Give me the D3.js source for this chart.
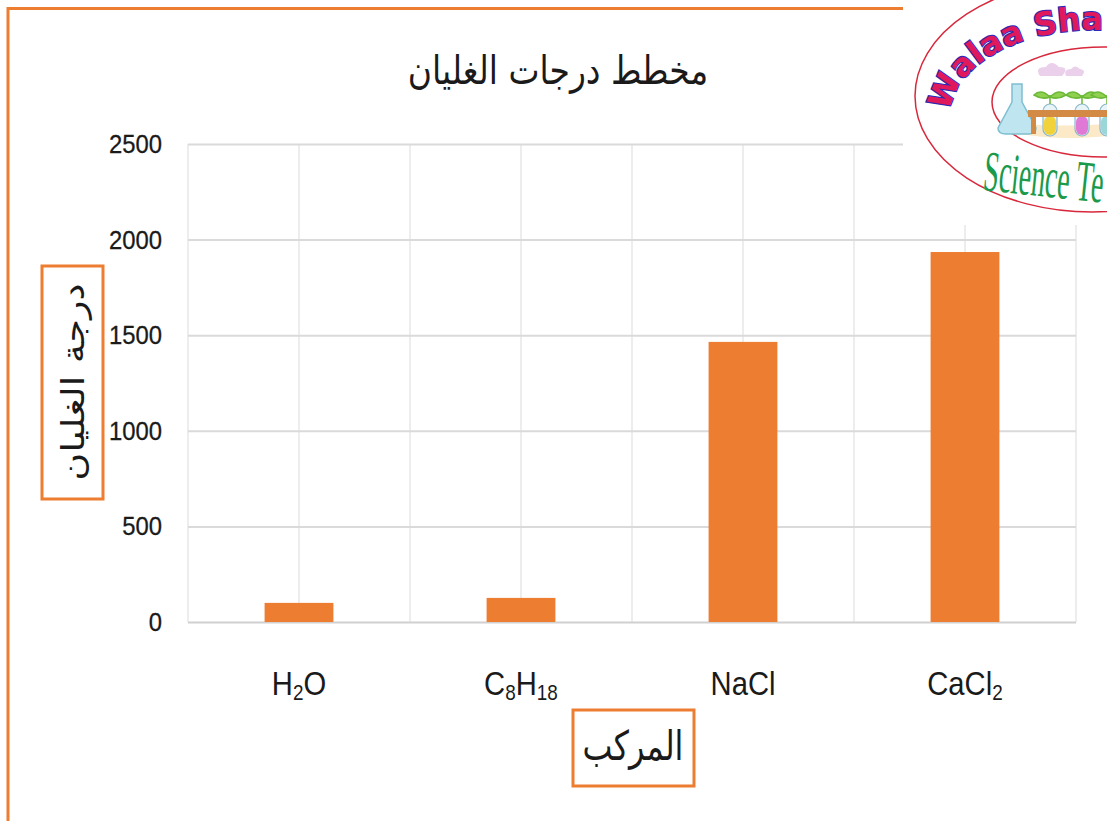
<!DOCTYPE html>
<html>
<head>
<meta charset="utf-8">
<script src="https://cdn.jsdelivr.net/npm/d3@7"></script>
<style>
  html, body { margin: 0; padding: 0; background: #fff; }
  svg { display: block; }
</style>
</head>
<body>
<svg id="chart" width="1107" height="821"></svg>
<script>
// Boiling points (°C) of four compounds
const categories = ["H2O", "C8H18", "NaCl", "CaCl2"];
const boilingPoints = [100, 126, 1465, 1935];
const yTicks = [0, 500, 1000, 1500, 2000, 2500];

const titleText = "مخطط درجات الغليان";
const yTitleText = "درجة الغليان";
const xTitleText = "المركب";

const orange = "#ED7D31";
const arabicFont = "'DejaVu Sans', sans-serif";
const latinFont = "'Liberation Sans', Arial, sans-serif";

const svg = d3.select("#chart");

const plot = { left: 188, right: 1076, top: 144, bottom: 622 };

const x = d3.scaleBand()
  .domain(categories)
  .range([plot.left, plot.right])
  .paddingInner(0.69)
  .paddingOuter(0.345);

const y = d3.scaleLinear()
  .domain([0, 2500])
  .range([plot.bottom, plot.top]);

const step = x.step();

// Frame lines along the top and left edges
svg.append("line")
  .attr("x1", 8).attr("x2", 1107).attr("y1", 8.5).attr("y2", 8.5)
  .attr("stroke", orange).attr("stroke-width", 3);
svg.append("line")
  .attr("x1", 8).attr("x2", 8).attr("y1", 7).attr("y2", 821)
  .attr("stroke", orange).attr("stroke-width", 3);

// Vertical gridlines at band edges and band centres
const vLines = [];
categories.forEach(c => {
  vLines.push(x(c) - (step - x.bandwidth()) / 2);
  vLines.push(x(c) + x.bandwidth() / 2);
});
vLines.push(plot.right);
svg.append("g").selectAll("line").data(vLines).join("line")
  .attr("x1", d => d).attr("x2", d => d)
  .attr("y1", plot.top).attr("y2", plot.bottom)
  .attr("stroke", "#ededed").attr("stroke-width", 2);

// Horizontal gridlines through the y axis
const tickScale = 0.9;
const yAxis = d3.axisLeft(y)
  .tickValues(yTicks)
  .tickFormat(d3.format("d"))
  .tickSize(-(plot.right - plot.left))
  .tickPadding(0);
const yAxisG = svg.append("g")
  .attr("transform", `translate(${plot.left},0)`)
  .call(yAxis);
yAxisG.select(".domain").remove();
yAxisG.selectAll(".tick line")
  .attr("stroke", d => d === 0 ? "#d0d0d0" : "#dadada")
  .attr("stroke-width", 2);
yAxisG.selectAll(".tick text")
  .attr("font-family", latinFont)
  .attr("font-size", 26.5)
  .attr("fill", "#1a1a1a")
  .attr("stroke", "#1a1a1a")
  .attr("stroke-width", 0.3)
  .attr("x", -26 / tickScale)
  .attr("transform", `scale(${tickScale},1)`);

// Bars
svg.append("g").selectAll("rect").data(categories).join("rect")
  .attr("x", d => x(d))
  .attr("width", x.bandwidth())
  .attr("y", (d, i) => y(boilingPoints[i]))
  .attr("height", (d, i) => y(0) - y(boilingPoints[i]))
  .attr("fill", orange);

// Category labels with subscripted digits
const labelScale = 0.86;
const xLabels = svg.append("g").selectAll("text").data(categories).join("text")
  .attr("transform", d => `translate(${x(d) + x.bandwidth() / 2},695) scale(${labelScale},1)`)
  .attr("text-anchor", "middle")
  .attr("font-family", latinFont)
  .attr("font-size", 34)
  .attr("fill", "#1a1a1a");
xLabels.each(function(d) {
  const t = d3.select(this);
  const parts = d.match(/[A-Za-z]+|\d+/g);
  let sub = false;
  parts.forEach(p => {
    const isNum = /\d/.test(p);
    const ts = t.append("tspan").text(p);
    if (isNum) {
      ts.attr("font-size", 22);
      if (!sub) { ts.attr("dy", 5); sub = true; }
    } else if (sub) {
      ts.attr("dy", -5); sub = false;
    }
  });
});

// Chart title
svg.append("text")
  .attr("transform", "translate(558,84) scale(0.97,1.15)")
  .attr("text-anchor", "middle")
  .attr("font-family", arabicFont)
  .attr("font-size", 34)
  .attr("fill", "#1a1a1a")
  .text(titleText);

// Y axis title in a boxed frame
svg.append("rect")
  .attr("x", 42).attr("y", 266).attr("width", 61).attr("height", 233)
  .attr("fill", "#fff").attr("stroke", orange).attr("stroke-width", 3);
svg.append("text")
  .attr("transform", "translate(73,382) rotate(-90) scale(1.24,1)")
  .attr("text-anchor", "middle")
  .attr("dominant-baseline", "central")
  .attr("font-family", arabicFont)
  .attr("font-size", 31)
  .attr("fill", "#1a1a1a")
  .text(yTitleText);

// X axis title in a boxed frame
svg.append("rect")
  .attr("x", 573).attr("y", 710).attr("width", 121).attr("height", 76)
  .attr("fill", "#fff").attr("stroke", orange).attr("stroke-width", 3);
svg.append("text")
  .attr("transform", "translate(633,746) scale(0.86,1.1)")
  .attr("text-anchor", "middle")
  .attr("dominant-baseline", "central")
  .attr("font-family", arabicFont)
  .attr("font-size", 37)
  .attr("fill", "#1a1a1a")
  .text(xTitleText);

// Badge in the top-right corner
const badge = svg.append("g");
badge.append("rect")
  .attr("x", 903).attr("y", 0).attr("width", 204).attr("height", 225)
  .attr("fill", "#fff");
badge.append("ellipse")
  .attr("cx", 1092).attr("cy", 96).attr("rx", 177).attr("ry", 116)
  .attr("fill", "#fff").attr("stroke", "#d8283c").attr("stroke-width", 1.5);
badge.append("ellipse")
  .attr("cx", 1104).attr("cy", 102).attr("rx", 112).attr("ry", 55)
  .attr("fill", "#fff").attr("stroke", "#d8283c").attr("stroke-width", 1.5);

// Lab scene inside the inner ring
badge.append("path")
  .attr("d", "M1008,130 Q1040,142 1107,136 L1107,124 Q1050,128 1008,122 Z")
  .attr("fill", "#fbe9c8");
badge.append("path")
  .attr("d", "M1012,84 L1022,84 L1022,102 L1036,128 Q1036,134 1028,134 L1006,134 Q998,134 998,128 L1012,102 Z")
  .attr("fill", "#bfe6f0").attr("stroke", "#7fbfd0").attr("stroke-width", 1.5);
badge.append("path")
  .attr("d", "M1040,76 q-6,-9 6,-9 q5,-8 13,0 q11,0 3,9 Z")
  .attr("fill", "#ead0ea");
badge.append("path")
  .attr("d", "M1066,76 q-3,-7 5,-7 q4,-5 9,0 q7,1 2,7 Z")
  .attr("fill", "#ead0ea");
const tubes = [[1050, "#f2d23a"], [1082, "#e079d6"], [1107, "#9ad8d8"]];
tubes.forEach(([cx, col]) => {
  badge.append("rect").attr("x", cx - 7).attr("y", 104).attr("width", 14).attr("height", 32)
    .attr("rx", 7).attr("fill", "#e8f4f8").attr("stroke", "#8ab8c8").attr("stroke-width", 1.2);
  badge.append("rect").attr("x", cx - 6).attr("y", 116).attr("width", 12).attr("height", 19)
    .attr("rx", 6).attr("fill", col);
  badge.append("path")
    .attr("d", `M${cx},104 L${cx},95 M${cx},97 q-9,-9 -16,-2 q8,5 16,2 M${cx},97 q9,-9 16,-2 q-8,5 -16,2`)
    .attr("stroke", "#6cb83a").attr("stroke-width", 1.5).attr("fill", "#8fd14f");
});
badge.append("rect").attr("x", 1028).attr("y", 110).attr("width", 79).attr("height", 7)
  .attr("fill", "#d28a45");
badge.append("rect").attr("x", 1031).attr("y", 117).attr("width", 5).attr("height", 17)
  .attr("fill", "#d28a45");

// Arched name along the outer ring
badge.append("path")
  .attr("id", "nameArc")
  .attr("d", "M950,116 A142,86 0 0 1 1092,30 L1160,30")
  .attr("fill", "none");
badge.append("text")
  .attr("font-family", "'DejaVu Sans', sans-serif")
  .attr("font-weight", "bold")
  .attr("font-size", 32)
  .attr("fill", "#e0185c")
  .attr("stroke", "#2a2ab8")
  .attr("stroke-width", 2.2)
  .attr("paint-order", "stroke")
  .append("textPath")
  .attr("href", "#nameArc")
  .attr("startOffset", 4)
  .text("Walaa Sha");

badge.append("text")
  .attr("transform", "translate(982,190) rotate(6) scale(0.48,1)")
  .attr("font-family", "'Liberation Serif', serif")
  .attr("font-size", 58)
  .attr("fill", "#1a9a4a")
  .text("Science Te");
</script>
</body>
</html>
